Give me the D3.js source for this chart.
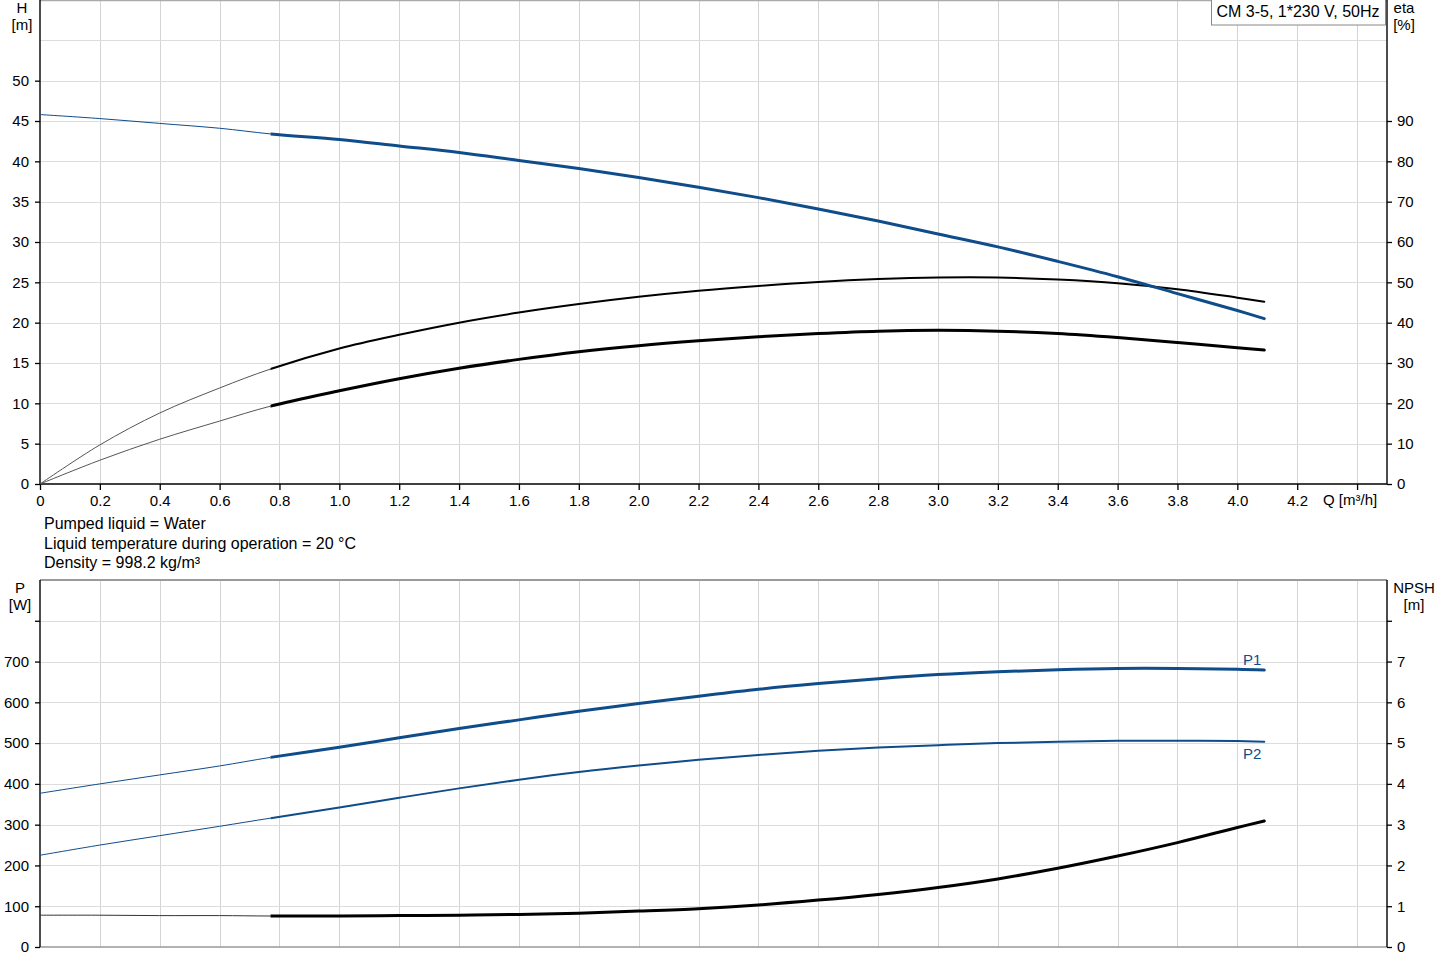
<!DOCTYPE html>
<html><head><meta charset="utf-8">
<script src="https://cdn.jsdelivr.net/npm/d3@7"></script>
<style>
body{margin:0;background:#fff;}
svg text{font-family:"Liberation Sans",Arial,sans-serif;}
</style></head><body>
<svg id="c" width="1445" height="970"></svg>
<script>
// ---- data ----
const flow     = [0,0.2,0.4,0.6,0.77,1.0,1.2,1.4,1.6,1.8,2.0,2.2,2.4,2.6,2.8,3.0,3.2,3.4,3.6,3.8,4.0,4.09];
const head     = [45.8,45.3,44.7,44.1,43.4,42.7,41.9,41.1,40.1,39.1,38.0,36.8,35.5,34.1,32.6,31.0,29.4,27.6,25.7,23.6,21.5,20.5];
const etaPump  = [0,9.7,17.6,23.8,28.5,33.6,37.0,40.0,42.5,44.6,46.4,47.9,49.1,50.1,50.8,51.2,51.2,50.7,49.8,48.3,46.2,45.2];
const etaTotal = [0,5.9,11.1,15.6,19.3,23.1,26.1,28.7,30.9,32.8,34.3,35.5,36.5,37.3,37.9,38.1,37.9,37.3,36.3,35.1,33.8,33.2];
const powerP1  = [377,400,422,444,465,490,513,536,557,578,597,615,632,646,658,668,675,680,683,683,681,679];
const powerP2  = [225,250,273,296,316,342,366,389,410,429,445,459,471,481,489,495,500,503.5,505.5,506,505,503.5];
const npsh     = [0.78,0.78,0.77,0.77,0.76,0.76,0.77,0.78,0.80,0.83,0.88,0.94,1.03,1.15,1.29,1.46,1.67,1.93,2.23,2.56,2.93,3.09];
const dutyStartQ = 0.77;

const qTicks   = [0,0.2,0.4,0.6,0.8,1.0,1.2,1.4,1.6,1.8,2.0,2.2,2.4,2.6,2.8,3.0,3.2,3.4,3.6,3.8,4.0,4.2,4.4];
const qLabels  = ["0","0.2","0.4","0.6","0.8","1.0","1.2","1.4","1.6","1.8","2.0","2.2","2.4","2.6","2.8","3.0","3.2","3.4","3.6","3.8","4.0","4.2",""];
const hTicks   = [0,5,10,15,20,25,30,35,40,45,50,55];
const hLabels  = ["0","5","10","15","20","25","30","35","40","45","50",""];
const etaTicks = [0,10,20,30,40,50,60,70,80,90];
const pTicks   = [0,100,200,300,400,500,600,700,800];
const pLabels  = ["0","100","200","300","400","500","600","700",""];
const nTicks   = [0,1,2,3,4,5,6,7,8];
const nLabels  = ["0","1","2","3","4","5","6","7",""];

const infoLines = ["Pumped liquid = Water","Liquid temperature during operation = 20 °C","Density = 998.2 kg/m³"];
const pumpTitle = "CM 3-5, 1*230 V, 50Hz";

// ---- layout ----
const X0 = 40, X1 = 1387;
const T = {top:0, bottom:484};
const B = {top:580, bottom:947};
const BLUE = "#0f4c8a";

const svg = d3.select("#c");
const x  = d3.scaleLinear([0,4.5],[X0,X1]);
const yH = d3.scaleLinear([0,60],[T.bottom,T.top]);
const yE = d3.scaleLinear([0,120],[T.bottom,T.top]);
const yP = d3.scaleLinear([0,900],[B.bottom,B.top]);
const yN = d3.scaleLinear([0,9],[B.bottom,B.top]);

// clip regions for thin (outside duty range) and thick (duty range) parts
const defs = svg.append("defs");
const xs = x(dutyStartQ);
defs.append("clipPath").attr("id","thinClip").append("rect").attr("x",0).attr("y",0).attr("width",xs).attr("height",970);
defs.append("clipPath").attr("id","thickClip").append("rect").attr("x",xs).attr("y",0).attr("width",1445-xs).attr("height",970);

// grid
function grid(top,bottom,ys,vals){
  const g = svg.append("g");
  g.selectAll(".v").data(qTicks.slice(1)).join("line")
    .attr("x1",d=>Math.round(x(d))+0.5).attr("x2",d=>Math.round(x(d))+0.5)
    .attr("y1",top).attr("y2",bottom).attr("stroke","#d2d4d6").attr("stroke-width",1);
  g.selectAll(".h").data(vals).join("line")
    .attr("x1",X0).attr("x2",X1)
    .attr("y1",d=>Math.round(ys(d))+0.5).attr("y2",d=>Math.round(ys(d))+0.5)
    .attr("stroke","#dcdcdc").attr("stroke-width",1.2);
}
grid(T.top,T.bottom,yH,hTicks.slice(1));
grid(B.top,B.bottom,yP,pTicks.slice(1));

// frame lines
svg.append("line").attr("x1",X0).attr("x2",X1).attr("y1",0.5).attr("y2",0.5).attr("stroke","#aaa").attr("stroke-width",1.5);
svg.append("line").attr("x1",X0).attr("x2",X1).attr("y1",B.top).attr("y2",B.top).attr("stroke","#9a9a9a").attr("stroke-width",1.8);
svg.append("line").attr("x1",X0).attr("x2",X1).attr("y1",B.bottom).attr("y2",B.bottom).attr("stroke","#999").attr("stroke-width",1.5);

function styleAxis(g){
  g.select(".domain").remove();
  g.selectAll(".tick line").attr("stroke","#000").attr("stroke-width",1.3);
  g.selectAll(".tick text").attr("fill","#000").style("font-size","15px");
}
function fmt(ticks,labels){ return (d)=> labels[ticks.indexOf(d)]; }

// top chart axes
svg.append("g").attr("transform",`translate(${X0},0)`)
  .call(d3.axisLeft(yH).tickValues(hTicks.slice(0,11)).tickFormat(fmt(hTicks,hLabels)).tickSize(5).tickPadding(6).tickSizeOuter(0))
  .call(styleAxis);
svg.append("g").attr("transform",`translate(${X1},0)`)
  .call(d3.axisRight(yE).tickValues(etaTicks).tickSize(5).tickPadding(5).tickSizeOuter(0))
  .call(styleAxis);
svg.append("g").attr("transform",`translate(0,${T.bottom})`)
  .call(d3.axisBottom(x).tickValues(qTicks).tickFormat(fmt(qTicks,qLabels)).tickSize(6).tickPadding(5).tickSizeOuter(0))
  .call(styleAxis);

// bottom chart axes
svg.append("g").attr("transform",`translate(${X0},0)`)
  .call(d3.axisLeft(yP).tickValues(pTicks).tickFormat(fmt(pTicks,pLabels)).tickSize(5).tickPadding(6).tickSizeOuter(0))
  .call(styleAxis);
svg.append("g").attr("transform",`translate(${X1},0)`)
  .call(d3.axisRight(yN).tickValues(nTicks).tickFormat(fmt(nTicks,nLabels)).tickSize(5).tickPadding(5).tickSizeOuter(0))
  .call(styleAxis);

// axis lines
const axLine = (x1,y1,x2,y2,c="#000",w=1.4)=>svg.append("line").attr("x1",x1).attr("y1",y1).attr("x2",x2).attr("y2",y2).attr("stroke",c).attr("stroke-width",w);
axLine(X0,0,X0,T.bottom); axLine(X1,0,X1,T.bottom); axLine(X0,T.bottom,X1,T.bottom);
axLine(X0,B.top,X0,B.bottom); axLine(X1,B.top,X1,B.bottom);

// curves: one smooth path, drawn thin before the duty range and thick inside it
function drawCurve(vals, ys, color, thinW, thickW, thinColor){
  const pts = flow.map((q,i)=>({q, v:vals[i]}));
  const line = d3.line().x(d=>x(d.q)).y(d=>ys(d.v)).curve(d3.curveCatmullRom.alpha(0.5));
  const d = line(pts);
  svg.append("path").attr("d",d).attr("fill","none").attr("clip-path","url(#thinClip)")
    .attr("stroke",thinColor||color).attr("stroke-width",thinW);
  svg.append("path").attr("d",d).attr("fill","none").attr("clip-path","url(#thickClip)")
    .attr("stroke",color).attr("stroke-width",thickW).attr("stroke-linecap","round");
}
drawCurve(etaPump, yE, "#000", 1, 2, "#555");
drawCurve(etaTotal, yE, "#000", 1, 3, "#555");
drawCurve(head, yH, BLUE, 1, 3);
drawCurve(powerP2, yP, BLUE, 1, 2);
drawCurve(powerP1, yP, BLUE, 1, 3);
drawCurve(npsh, yN, "#000", 1, 3, "#333");

// texts
const txt = (s,xx,yy,anchor="start",size=15,color="#000")=>svg.append("text").text(s).attr("x",xx).attr("y",yy)
  .attr("text-anchor",anchor).attr("fill",color).style("font-size",size+"px");
txt("H",22,13,"middle"); txt("[m]",22,30,"middle");
txt("eta",1404,13,"middle"); txt("[%]",1404,30,"middle");
txt("Q [m³/h]",1323,505,"start");
txt("P",20,593,"middle"); txt("[W]",20,610,"middle");
txt("NPSH",1414,593,"middle"); txt("[m]",1414,610,"middle");
txt("P1",1243,665,"start",15,BLUE); txt("P2",1243,759,"start",15,BLUE);
infoLines.forEach((s,i)=>txt(s,44,529+i*19.5,"start",16));

// title box
svg.append("rect").attr("x",1211.5).attr("y",-1).attr("width",174).attr("height",26)
  .attr("fill","#fff").attr("stroke","#888").attr("stroke-width",1);
txt(pumpTitle,1298,17,"middle",16);
</script>
</body></html>
